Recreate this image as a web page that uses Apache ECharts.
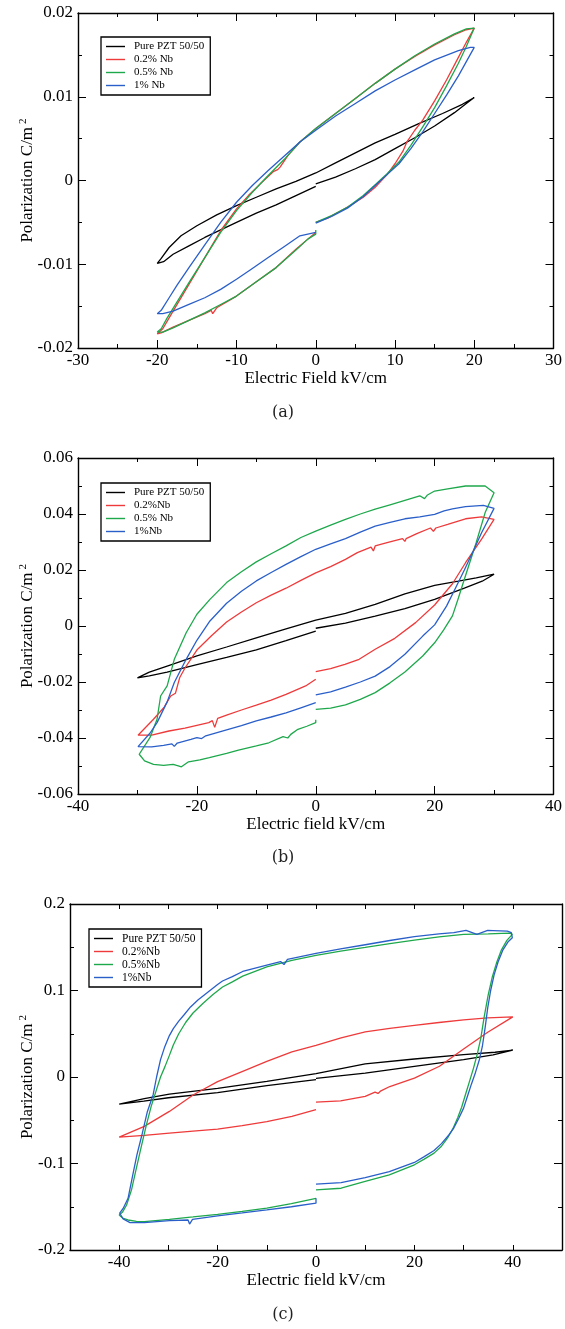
<!DOCTYPE html>
<html>
<head>
<meta charset="utf-8">
<script src="https://cdn.jsdelivr.net/npm/echarts@6/dist/echarts.min.js"></script>
<style>
  html, body { margin: 0; padding: 0; background: #fff; }
  #chart { width: 565px; height: 1329px; }
</style>
</head>
<body>
<div id="chart"></div>
<script>
// P-E hysteresis loops: [electric field (kV/cm), polarization (C/m^2)]
// Each loop starts at E = 0, runs to +Emax, back down to -Emax, and returns to E = 0.

// ---- Panel (a) ----
const namesA = ['Pure PZT 50/50', '0.2% Nb', '0.5% Nb', '1% Nb'];
const axisA_E = [-30, 30, 10];       // min, max, step
const axisA_P = [-0.02, 0.02, 0.01];
const pureA = [
  [0,-0.0004],[2.5,0.0004],[5,0.0014],[7.5,0.0025],[10,0.0038],[12.5,0.0051],[15,0.0065],[17.5,0.0081],[19,0.0092],[20,0.0099],
  [18.5,0.0091],[16,0.0080],[13,0.0068],[10,0.0055],[7.5,0.0045],[5,0.0033],[2.5,0.0021],[0,0.0009],[-2.5,-0.0001],[-5,-0.0010],
  [-7.5,-0.0020],[-10,-0.0030],[-12.5,-0.0041],[-15,-0.0054],[-17,-0.0066],[-18.5,-0.0080],[-19.5,-0.0093],[-20,-0.0099],
  [-19.2,-0.0097],[-18,-0.0088],[-16,-0.0078],[-14,-0.0068],[-12,-0.0059],[-10,-0.0050],[-7.5,-0.0039],[-5,-0.0029],[-2.5,-0.0018],[0,-0.0007]
];
const nb02A = [
  [0,-0.0050],[1.5,-0.0045],[3,-0.0037],[4.5,-0.0029],[6,-0.0020],[7.5,-0.0008],[9,0.0007],[10,0.0020],[11,0.0035],[11.5,0.0046],
  [12.5,0.0060],[13.5,0.0072],[15,0.0095],[16.5,0.0120],[18,0.0147],[19,0.0165],[20,0.0182],
  [19,0.0180],[17.5,0.0174],[15,0.0162],[12.5,0.0148],[10,0.0133],[7.5,0.0116],[5,0.0098],[2.5,0.0080],[0,0.0062],[-2,0.0046],
  [-3.5,0.0030],[-4.5,0.0016],[-4.8,0.0013],[-5.3,0.0011],[-7,-0.0004],[-8.5,-0.0018],[-10,-0.0034],[-12,-0.0060],[-14,-0.0092],
  [-16,-0.0124],[-17.5,-0.0148],[-18.5,-0.0164],[-19.3,-0.0177],[-20,-0.0183],
  [-19.5,-0.0182],[-18,-0.0175],[-16,-0.0167],[-14,-0.0159],[-13.2,-0.0155],[-13,-0.0159],[-12.5,-0.0152],[-10,-0.0138],
  [-7.5,-0.0121],[-5,-0.0104],[-2.5,-0.0082],[-1,-0.0070],[0,-0.0062]
];
const nb05A = [
  [0,-0.0050],[2,-0.0042],[4,-0.0032],[6,-0.0018],[7.5,-0.0005],[9,0.0008],[10.5,0.0022],[12,0.0042],[13.5,0.0064],[15,0.0087],
  [16.5,0.0113],[18,0.0140],[19,0.0160],[20,0.0182],
  [19,0.0181],[17.5,0.0175],[15,0.0163],[12.5,0.0149],[10,0.0133],[7.5,0.0116],[5,0.0098],[2.5,0.0080],[0,0.0062],[-2,0.0046],
  [-4,0.0025],[-6,0.0006],[-8,-0.0014],[-10,-0.0036],[-12,-0.0062],[-14,-0.0092],[-16,-0.0122],[-17.5,-0.0145],[-18.8,-0.0165],
  [-19.5,-0.0177],[-20,-0.0181],
  [-19.3,-0.0181],[-18,-0.0176],[-16,-0.0167],[-14,-0.0158],[-12,-0.0148],[-10,-0.0138],[-7.5,-0.0121],[-5,-0.0104],
  [-2.5,-0.0083],[-1,-0.0070],[0,-0.0064],[0,-0.0059]
];
const nb1A = [
  [0,-0.0051],[2,-0.0043],[4,-0.0033],[6,-0.0019],[7.5,-0.0006],[9,0.0007],[10.5,0.0020],[12,0.0038],[13.5,0.0058],[15,0.0080],
  [16.5,0.0102],[18,0.0125],[19,0.0142],[20,0.0159],
  [19.5,0.0159],[18,0.0155],[15,0.0144],[12.5,0.0132],[10,0.0120],[7.5,0.0107],[5,0.0092],[2.5,0.0077],[0,0.0060],[-2,0.0046],
  [-4,0.0029],[-6,0.0012],[-8,-0.0006],[-10,-0.0026],[-12,-0.0050],[-14,-0.0077],[-16,-0.0104],[-17.5,-0.0125],[-18.5,-0.0140],
  [-19.5,-0.0155],[-20,-0.0159],
  [-19.3,-0.0159],[-18,-0.0156],[-16,-0.0148],[-14,-0.0140],[-12,-0.0130],[-10,-0.0118],[-8,-0.0105],[-6,-0.0092],[-4,-0.0079],
  [-2,-0.0066],[0,-0.0062]
];

// ---- Panel (b) ----
const namesB = ['Pure PZT 50/50', '0.2%Nb', '0.5% Nb', '1%Nb'];
const axisB_E = [-40, 40, 20];
const axisB_P = [-0.06, 0.06, 0.02];
const pureB = [
  [0,-0.0008],[5,0.0010],[10,0.0035],[15,0.0062],[20,0.0095],[25,0.0135],[28,0.0160],[30,0.0185],
  [27,0.0172],[24,0.0160],[20,0.0145],[15,0.0115],[10,0.0077],[5,0.0045],[0,0.0021],[-5,-0.0010],[-10,-0.0042],[-15,-0.0075],
  [-20,-0.0107],[-25,-0.0143],[-28,-0.0165],[-30,-0.0185],
  [-28,-0.0178],[-25,-0.0165],[-20,-0.0138],[-15,-0.0112],[-10,-0.0085],[-5,-0.0052],[0,-0.0018]
];
const nb02B = [
  [0,-0.0163],[2.5,-0.0152],[4.9,-0.0137],[7.3,-0.0119],[10,-0.0083],[13.3,-0.0044],[16.8,0.0012],[20,0.0075],[23,0.0151],
  [25.2,0.0226],[27.9,0.0310],[30,0.0381],
  [27.9,0.0390],[25.2,0.0383],[22.2,0.0363],[20.2,0.0350],[19.8,0.0338],[19.3,0.0350],[17,0.0330],[15.2,0.0312],[15,0.0302],
  [14.6,0.0312],[12,0.0298],[10,0.0286],[9.7,0.0268],[9.3,0.0282],[7,0.0262],[5,0.0238],[2.5,0.0212],[0,0.0190],[-2.5,0.0163],
  [-5,0.0135],[-7.5,0.0110],[-10,0.0083],[-12.5,0.0050],[-15,0.0014],[-17.5,-0.0034],[-20,-0.0086],[-22,-0.0150],[-22.9,-0.0185],
  [-23.6,-0.0240],[-24.4,-0.0250],[-25.5,-0.0290],[-27.3,-0.0333],[-29.9,-0.0390],
  [-27.6,-0.0390],[-24.7,-0.0375],[-22,-0.0365],[-20,-0.0355],[-18,-0.0345],[-17.4,-0.0338],[-17.0,-0.0362],[-16.5,-0.0330],
  [-15,-0.0318],[-12.5,-0.0300],[-10,-0.0283],[-7.5,-0.0265],[-5,-0.0244],[-1.7,-0.0214],[0,-0.0190]
];
const nb05B = [
  [0,-0.0298],[2.5,-0.0293],[5,-0.0282],[7.5,-0.0262],[10,-0.0238],[12.5,-0.0203],[15,-0.0164],[18,-0.0107],[20,-0.0060],
  [21.5,-0.0015],[23,0.0036],[24,0.0100],[25,0.0167],[27,0.0298],[28.5,0.0405],[30,0.0476],
  [28.5,0.0500],[25.2,0.0500],[22.2,0.0490],[20,0.0482],[18.8,0.0468],[18.3,0.0455],[17.5,0.0465],[15,0.0449],[12.5,0.0433],
  [10,0.0417],[7.5,0.0400],[5,0.0381],[2.5,0.0360],[0,0.0339],[-2.5,0.0316],[-5,0.0286],[-7.5,0.0258],[-10,0.0229],[-12.5,0.0194],
  [-15,0.0155],[-17.8,0.0095],[-20,0.0042],[-21.8,-0.0024],[-23.8,-0.0119],[-25,-0.0214],[-26.1,-0.0250],[-26.7,-0.0333],
  [-27.9,-0.0399],[-29.7,-0.0458],
  [-28.8,-0.0482],[-27.3,-0.0494],[-25.6,-0.0498],[-24,-0.0494],[-23.4,-0.0498],[-22.6,-0.0503],[-21.4,-0.0485],[-19.5,-0.0478],
  [-17.9,-0.0470],[-15,-0.0455],[-13,-0.0443],[-10,-0.0428],[-7.9,-0.0417],[-5.5,-0.0395],[-4.7,-0.0400],[-4.2,-0.0387],
  [-3,-0.0369],[-1.5,-0.0358],[0,-0.0345],[0,-0.0335]
];
const nb1B = [
  [0,-0.0246],[2.5,-0.0235],[5,-0.0218],[7.5,-0.0200],[10,-0.0179],[12.5,-0.0145],[15,-0.0101],[18,-0.0036],[20,0.0004],
  [22,0.0071],[23.5,0.0135],[25,0.0200],[26.5,0.0268],[27.9,0.0333],[30,0.0420],
  [28.2,0.0431],[25.2,0.0426],[23,0.0418],[21.6,0.0411],[20,0.0399],[17.5,0.0390],[15,0.0383],[12.5,0.0370],[10,0.0357],
  [7.5,0.0335],[5,0.0312],[2.5,0.0293],[0,0.0274],[-2.5,0.0248],[-5,0.0220],[-7.5,0.0191],[-10,0.0161],[-12.5,0.0124],
  [-15,0.0081],[-17.8,0.0018],[-20,-0.0051],[-21.8,-0.0119],[-23.8,-0.0202],[-25,-0.0271],[-26.7,-0.0345],[-27.9,-0.0383],
  [-29.9,-0.0431],
  [-27.6,-0.0432],[-25.6,-0.0426],[-24.2,-0.0421],[-23.8,-0.0430],[-23.3,-0.0418],[-21,-0.0405],[-20,-0.0399],[-19.2,-0.0402],
  [-18.5,-0.0392],[-15,-0.0371],[-12.5,-0.0356],[-10,-0.0339],[-7.5,-0.0325],[-5,-0.0310],[-2.5,-0.0292],[0,-0.0274]
];

// ---- Panel (c) ----
const namesC = ['Pure PZT 50/50', '0.2%Nb', '0.5%Nb', '1%Nb'];
const axisC_E = [-50, 50, 10];
const labelStepC_E = 20;
const axisC_P = [-0.2, 0.2, 0.1];
const pureC = [
  [0,-0.0015],[10,0.0045],[20,0.0124],[30,0.0200],[36,0.0255],[40,0.0310],
  [36.4,0.0286],[30,0.0259],[20,0.0208],[10,0.0151],[0,0.0039],[-10,-0.0050],[-20,-0.0131],[-29.8,-0.0197],[-34.9,-0.0251],
  [-40,-0.0313],
  [-35,-0.0280],[-30,-0.0240],[-20,-0.0180],[-10,-0.0100],[0,-0.0030]
];
const nb02C = [
  [0,-0.0290],[5,-0.0275],[10,-0.0225],[12,-0.0175],[12.6,-0.0190],[13.2,-0.0160],[15,-0.0110],[20,-0.0012],[25.1,0.0124],
  [30,0.0324],[34.9,0.0517],[40,0.0695],
  [34.9,0.0683],[30,0.0660],[25,0.0630],[20,0.0598],[15,0.0562],[10,0.0521],[5.1,0.0452],[0,0.0367],[-4.9,0.0290],[-10,0.0180],
  [-14.9,0.0066],[-20,-0.0054],[-24.9,-0.0205],[-29.8,-0.0398],[-34.9,-0.0571],[-40,-0.0695],
  [-34.9,-0.0676],[-29.8,-0.0649],[-25,-0.0625],[-20,-0.0602],[-15,-0.0562],[-10,-0.0517],[-4.9,-0.0456],[0,-0.0378]
];
const nb05C = [
  [0,-0.1305],[5.1,-0.1286],[10,-0.1208],[14.9,-0.1131],[20,-0.1015],[22,-0.0950],[24,-0.0880],[25.5,-0.0800],[26.8,-0.0700],
  [27.8,-0.0600],[28.8,-0.0470],[29.6,-0.0350],[30.4,-0.0200],[31.2,-0.0050],[32,0.0100],[32.8,0.0270],[33.5,0.0450],
  [34.2,0.0700],[35,0.0950],[35.8,0.1150],[36.7,0.1320],[37.7,0.1470],[38.8,0.1580],[39.9,0.1649],
  [39.4,0.1662],[37.8,0.1660],[35,0.1655],[30,0.1649],[25,0.1620],[20,0.1583],[15,0.1542],[10,0.1498],[5,0.1455],[0,0.1405],
  [-4.9,0.1347],[-10,0.1274],[-14.9,0.1166],[-17,0.1100],[-19,0.1040],[-21,0.0950],[-23,0.0850],[-25,0.0740],[-26.5,0.0630],
  [-27.9,0.0500],[-29,0.0370],[-29.8,0.0250],[-30.7,0.0120],[-31.6,0.0000],[-32.5,-0.0160],[-33.5,-0.0340],[-34.5,-0.0560],
  [-35.5,-0.0803],[-36.5,-0.1050],[-37.5,-0.1305],[-38.5,-0.1480],[-39.3,-0.1560],[-40,-0.1595],
  [-39.2,-0.1635],[-38.2,-0.1653],[-36.5,-0.1668],[-34.9,-0.1672],[-29.8,-0.1645],[-25,-0.1618],[-20,-0.1587],[-15,-0.1553],
  [-10,-0.1517],[-5,-0.1465],[0,-0.1402]
];
const nb1C = [
  [0,-0.1239],[5.1,-0.1220],[10,-0.1162],[14.9,-0.1093],[20,-0.0988],[22,-0.0920],[24,-0.0850],[25.5,-0.0770],[27,-0.0670],
  [28,-0.0590],[29,-0.0480],[30,-0.0360],[30.8,-0.0220],[31.6,-0.0080],[32.4,0.0050],[33.2,0.0200],[33.8,0.0350],
  [34.4,0.0580],[34.9,0.0800],[35.5,0.1000],[36.2,0.1180],[37,0.1330],[38,0.1470],[39,0.1560],[39.9,0.1610],
  [39.7,0.1670],[38.9,0.1687],[36,0.1693],[34.9,0.1695],[32.7,0.1649],[30.5,0.1695],[28,0.1670],[25,0.1655],[20,0.1622],
  [15,0.1578],[10,0.1529],[5,0.1480],[0,0.1429],[-5.8,0.1359],[-6.5,0.1300],[-7.2,0.1335],[-10,0.1293],[-14.9,0.1220],
  [-17,0.1160],[-19,0.1110],[-20,0.1069],[-22,0.0980],[-24,0.0890],[-25.5,0.0810],[-26.8,0.0720],[-27.9,0.0645],[-29,0.0560],
  [-29.8,0.0479],[-30.8,0.0340],[-31.6,0.0201],[-32.4,0.0000],[-33.1,-0.0205],[-34.3,-0.0405],[-35.3,-0.0650],[-36.4,-0.0900],
  [-37.3,-0.1150],[-38.2,-0.1402],[-39.2,-0.1520],[-39.9,-0.1575],
  [-39.2,-0.1640],[-37.8,-0.1683],[-34.9,-0.1683],[-29.8,-0.1660],[-26,-0.1653],[-25.7,-0.1700],[-25.1,-0.1645],[-20,-0.1606],
  [-15,-0.1572],[-10,-0.1537],[-5,-0.1500],[0,-0.1459],[0,-0.1402]
];

const COLORS = ['#000000', '#ee3a3a', '#1ea84c', '#2a5fc9'];
const SERIF = '"Liberation Serif", "Times New Roman", serif';
const Y_TITLE = '{t|Polarization C/m}{s|2}';

const panels = [
  { grid: { left: 78, top: 13, width: 479, height: 335 }, ex: axisA_E, py: axisA_P, exLabelStep: null,
    xName: 'Electric Field kV/cm', names: namesA, loops: [pureA, nb02A, nb05A, nb1A],
    legend: { left: 101, top: 37, fontSize: 11 }, caption: '(a)', captionY: 413, yTitleX: 27 },
  { grid: { left: 78, top: 458, width: 479, height: 336 }, ex: axisB_E, py: axisB_P, exLabelStep: null,
    xName: 'Electric field kV/cm', names: namesB, loops: [pureB, nb02B, nb05B, nb1B],
    legend: { left: 101, top: 483, fontSize: 11 }, caption: '(b)', captionY: 858, yTitleX: 27 },
  { grid: { left: 70, top: 904, width: 494, height: 346 }, ex: axisC_E, py: axisC_P, exLabelStep: labelStepC_E,
    xName: 'Electric field kV/cm', names: namesC, loops: [pureC, nb02C, nb05C, nb1C],
    legend: { left: 89, top: 929, fontSize: 11.5 }, caption: '(c)', captionY: 1315, yTitleX: 27 }
];

const grids = [], xAxes = [], yAxes = [], series = [], legends = [], graphics = [];

function tickStyle(len) {
  return { show: true, inside: true, length: len, lineStyle: { color: '#000', width: 1 } };
}

panels.forEach((p, gi) => {
  grids.push(Object.assign({ containLabel: false }, p.grid));
  const xMinor = p.exLabelStep ? { show: false } : { show: true, splitNumber: 2, length: 4, lineStyle: { color: '#000', width: 1 } };
  const yMinor = { show: true, splitNumber: 2, length: 4, lineStyle: { color: '#000', width: 1 } };
  const baseX = {
    gridIndex: gi, type: 'value', min: p.ex[0], max: p.ex[1], interval: p.ex[2],
    axisLine: { onZero: false, lineStyle: { color: '#000', width: 1.4 } },
    splitLine: { show: false }, minorSplitLine: { show: false },
    axisTick: tickStyle(p.exLabelStep ? 5 : 8), minorTick: xMinor
  };
  const baseY = {
    gridIndex: gi, type: 'value', min: p.py[0], max: p.py[1], interval: p.py[2],
    axisLine: { onZero: false, lineStyle: { color: '#000', width: 1.4 } },
    splitLine: { show: false }, minorSplitLine: { show: false },
    axisTick: tickStyle(8), minorTick: yMinor
  };
  const step = p.exLabelStep;
  xAxes.push(Object.assign({}, baseX, {
    position: 'bottom',
    axisLabel: {
      fontFamily: SERIF, fontSize: 17, color: '#000', margin: 4,
      formatter: step ? (v => (Math.round(v) % step === 0 && Math.abs(v) < p.ex[1] ? String(v) : '')) : (v => String(v))
    },
    name: p.xName, nameLocation: 'middle', nameGap: 20,
    nameTextStyle: { fontFamily: SERIF, fontSize: 17, color: '#000' }
  }));
  xAxes.push(Object.assign({}, baseX, { position: 'top', axisLabel: { show: false } }));
  yAxes.push(Object.assign({}, baseY, {
    position: 'left',
    axisLabel: { fontFamily: SERIF, fontSize: 17, color: '#000', margin: 5 }
  }));
  yAxes.push(Object.assign({}, baseY, { position: 'right', axisLabel: { show: false } }));

  p.loops.forEach((loop, k) => {
    series.push({
      name: p.names[k], type: 'line', xAxisIndex: 2 * gi, yAxisIndex: 2 * gi,
      data: loop, symbol: 'none', smooth: false, animation: false,
      lineStyle: { color: COLORS[k], width: 1.3 }, itemStyle: { color: COLORS[k] },
      emphasis: { disabled: true }
    });
  });

  legends.push({
    left: p.legend.left, top: p.legend.top, orient: 'vertical', data: p.names,
    icon: 'rect', itemWidth: 19, itemHeight: 1.4, itemGap: 0, padding: [3, 6, 3, 5],
    borderColor: '#000', borderWidth: 1.3, backgroundColor: '#fff', selectedMode: false,
    textStyle: { fontFamily: SERIF, fontSize: p.legend.fontSize, color: '#000', lineHeight: 13, padding: [0, 0, 0, 4] }
  });

  // rotated y-axis title with superscript, centred on the plot height
  graphics.push({
    type: 'text', x: p.yTitleX, y: p.grid.top + p.grid.height / 2, rotation: Math.PI / 2,
    style: {
      text: Y_TITLE, textAlign: 'center', textVerticalAlign: 'middle',
      rich: {
        t: { fontFamily: SERIF, fontSize: 17, fill: '#000', lineHeight: 18, verticalAlign: 'bottom' },
        s: { fontFamily: SERIF, fontSize: 11, fill: '#000', lineHeight: 18, verticalAlign: 'top', padding: [0, 0, 0, 3] }
      }
    }
  });

  graphics.push({
    type: 'text', x: 283, y: p.captionY,
    style: { text: p.caption, font: '16px "DejaVu Serif", serif', fill: '#222', textAlign: 'center', textVerticalAlign: 'middle' }
  });
});

const chart = echarts.init(document.getElementById('chart'), null, { renderer: 'canvas' });
chart.setOption({
  backgroundColor: '#fff',
  animation: false,
  grid: grids, xAxis: xAxes, yAxis: yAxes, series: series,
  legend: legends, graphic: graphics
});
</script>
</body>
</html>
